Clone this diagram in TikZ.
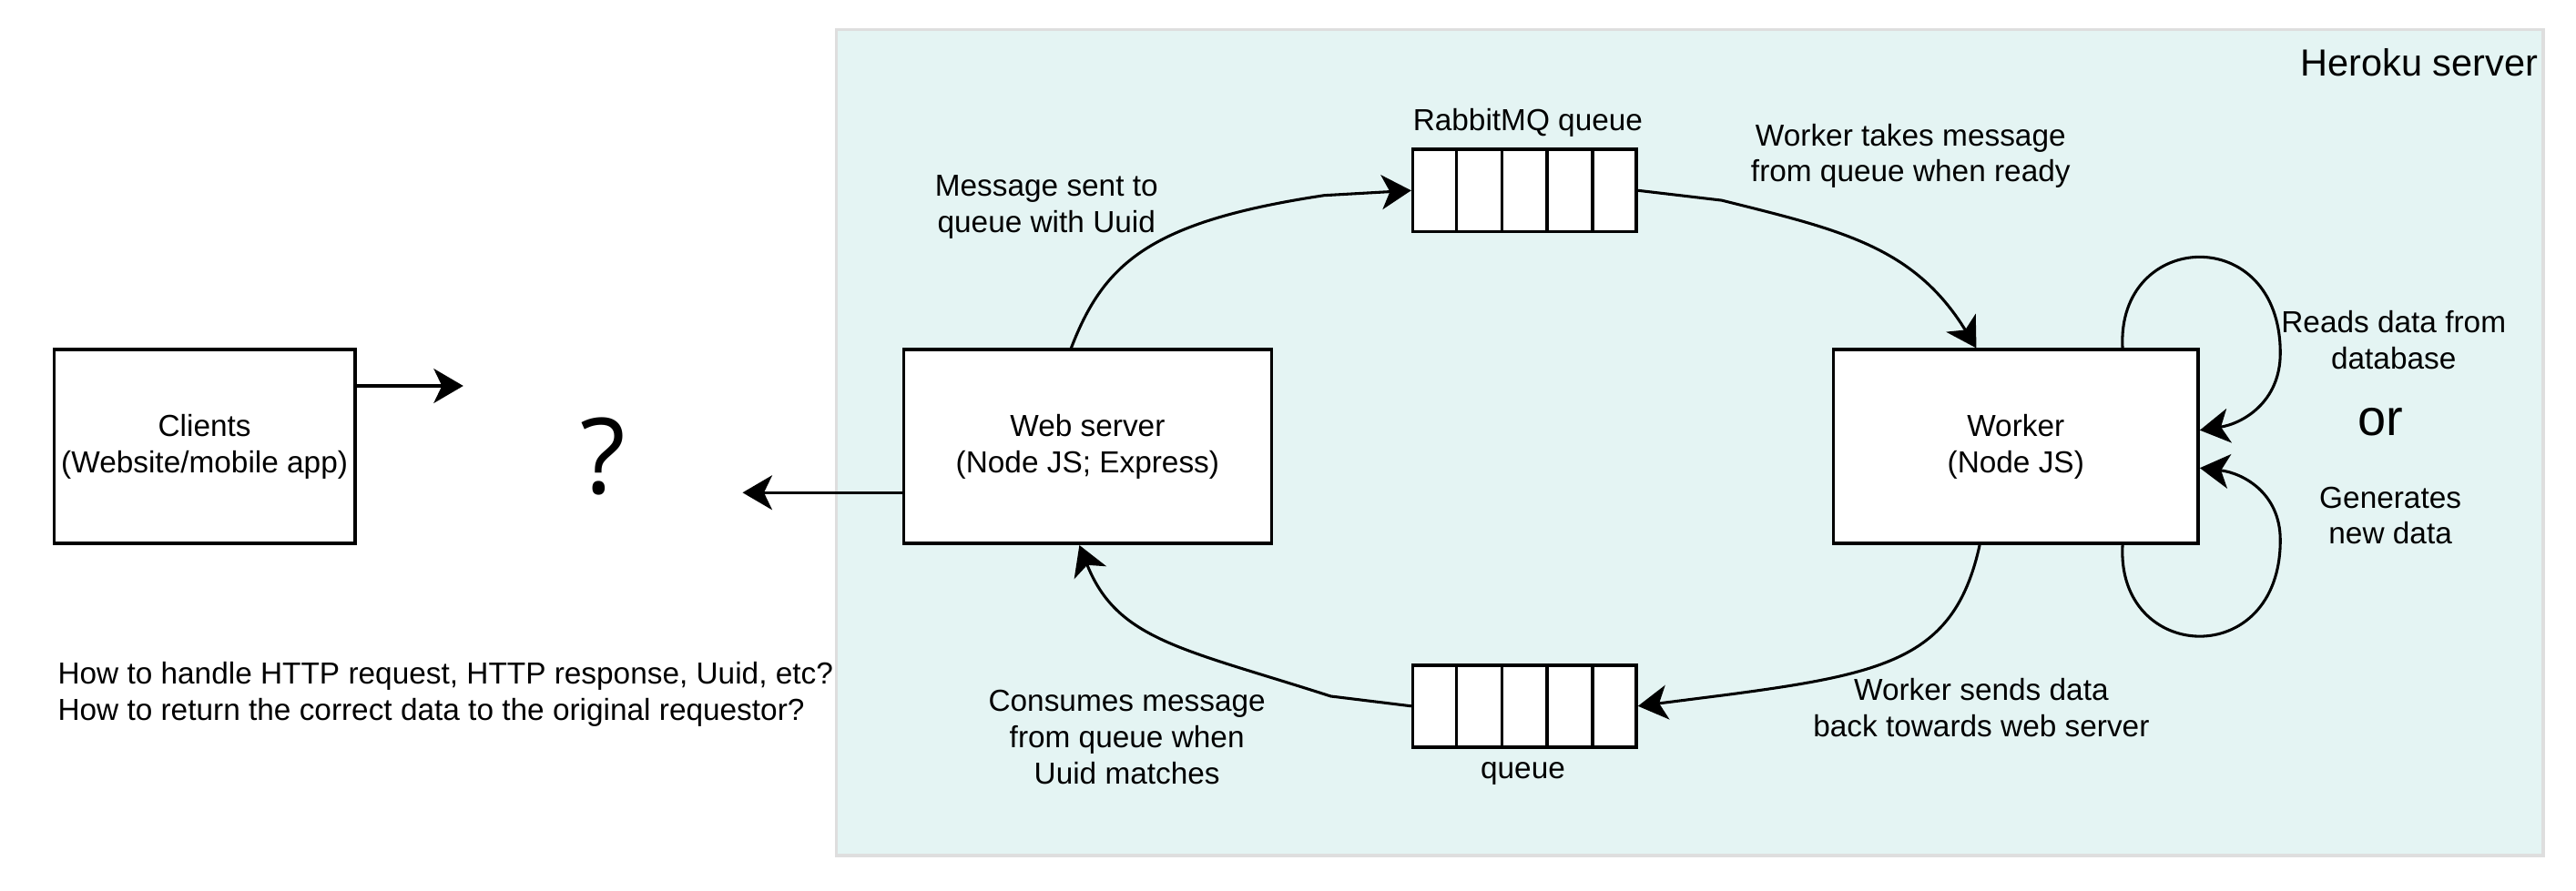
\documentclass[tikz,border=0pt]{standalone}
\usepackage{fontspec}
\setmainfont{Liberation Sans}
\newfontfamily\qmfont{Open Sans}
\usetikzlibrary{arrows.meta,calc}
\definecolor{herokufill}{HTML}{E4F4F3}
\definecolor{herokuline}{HTML}{DEDEDE}
\tikzset{
  box/.style={draw=black, fill=white, line width=2pt, inner sep=0pt, align=center,
    font=\fontsize{18.5}{22}\selectfont},
  qbox/.style={draw=black, fill=white, line width=2pt, inner sep=0pt,
    minimum width=136pt, minimum height=50pt},
  conn/.style={draw=black, line width=1.7pt,
    -{Stealth[length=18pt,width=21pt,inset=5pt]}},
  lbl/.style={align=center, inner sep=0pt, font=\fontsize{18.5}{22}\selectfont},
}
\begin{document}
\begin{tikzpicture}[x=1pt,y=-1pt]
\useasboundingbox (0,0) rectangle (1568,542.6);
% Heroku area
\node[draw=herokuline, fill=herokufill, line width=2pt, minimum width=1039pt,
  minimum height=503pt, inner sep=0pt] (heroku) at (1028.5,269.5) {};
\node[anchor=east, inner sep=0pt, font=\fontsize{23}{27}\selectfont] (herokulbl) at (1545,38) {Heroku server};

% boxes
\node[box, minimum width=183pt, minimum height=118pt] (clients) at (124.5,272) {Clients\\(Website/mobile app)};
\node[box, minimum width=224pt, minimum height=118pt] (web) at (662,272) {Web server\\(Node JS; Express)};
\node[box, minimum width=222pt, minimum height=118pt] (worker) at (1227,272) {Worker\\(Node JS)};

% queues
\node[qbox] (rq) at (928,116) {};
\node[qbox] (bq) at (928,430) {};
\foreach \q in {rq,bq}{
  \foreach \i in {1,...,4}{
    \draw[line width=2pt] ($(\q.north west)!\i/5!(\q.north east)$) -- ($(\q.south west)!\i/5!(\q.south east)$);
  }
}
\node[lbl] (rqlbl) at (930,75) {RabbitMQ queue};
\node[lbl] (bqlbl) at (927,471) {queue};

% question mark and free ends
\node[inner sep=0pt, font=\qmfont\fontsize{64}{70}\selectfont] (qm) at (367,278) {?};
\coordinate (c1) at (282,235);
\coordinate (c2) at (452,300);
\draw[conn] ([yshift=37pt]clients.east) -- (c1);
\draw[conn] ([yshift=-28pt]web.west) -- (c2);

% main cycle
\draw[conn] ([xshift=-10pt]web.north) .. controls (672,160) and (700,135) .. (806,119) -- (rq.west);
\draw[conn] (rq.east) -- (1048,122) .. controls (1120,140) and (1165,150) .. ([xshift=-24pt]worker.north);
\draw[conn] ([xshift=-22pt]worker.south) .. controls (1190,400) and (1150,410) .. (1052,423) -- (bq.east);
\draw[conn] (bq.west) -- (810,424) .. controls (720,395) and (680,390) .. ([xshift=-5pt]web.south);

% worker loops
\draw[conn] ([xshift=65pt]worker.north) .. controls (1288,140) and (1388,135) .. (1388,215)
  .. controls (1388,245) and (1365,258) .. ([yshift=10pt]worker.east);
\draw[conn] ([xshift=65pt]worker.south) .. controls (1288,404) and (1388,409) .. (1388,329)
  .. controls (1388,300) and (1365,288) .. ([yshift=-13pt]worker.east);

% labels
\node[lbl] (l1) at (637,126) {Message sent to\\queue with Uuid};
\node[lbl] (l2) at (1163,95) {Worker takes message\\from queue when ready};
\node[lbl] (l3) at (1206,431) {Worker sends data\\back towards web server};
\node[lbl] (l4) at (686,449) {Consumes message\\from queue when\\Uuid matches};
\node[lbl] (l5) at (1457,207) {Reads data from\\database};
\node[inner sep=0pt, font=\fontsize{31}{36}\selectfont] (or) at (1449,257) {or};
\node[lbl] (l6) at (1455,314) {Generates\\new data};
\node[lbl, align=left, anchor=west] (qtext) at (35,423) {How to handle HTTP request, HTTP response, Uuid, etc?\\How to return the correct data to the original requestor?};
\end{tikzpicture}
\end{document}
